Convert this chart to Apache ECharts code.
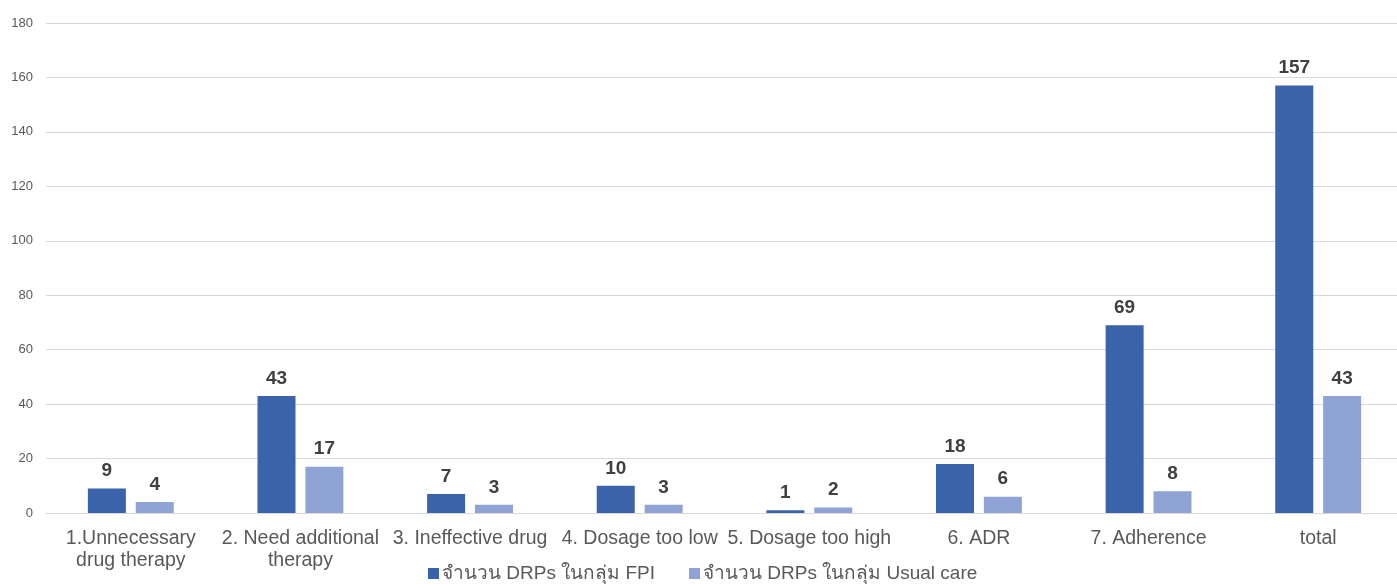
<!DOCTYPE html>
<html>
<head>
<meta charset="utf-8">
<script src="https://cdn.jsdelivr.net/npm/echarts@6/dist/echarts.min.js"></script>
<style>
  html, body { margin: 0; padding: 0; background: #fff; }
  #chart { width: 1397px; height: 584px; }
</style>
</head>
<body>
<div id="chart"></div>
<script>
// DRP categories and counts per group
const categories = [
  '1.Unnecessary\ndrug therapy',
  '2. Need additional\ntherapy',
  '3. Ineffective drug',
  '4. Dosage too low',
  '5. Dosage too high',
  '6. ADR',
  '7. Adherence',
  'total'
];
const fpiCounts = [9, 43, 7, 10, 1, 18, 69, 157];
const usualCareCounts = [4, 17, 3, 3, 2, 6, 8, 43];
const seriesNames = ['จำนวน DRPs ในกลุ่ม FPI', 'จำนวน DRPs ในกลุ่ม Usual care'];
const yTicks = { min: 0, max: 180, interval: 20 };

const FONT = 'Liberation Sans, Arial, "Noto Sans", sans-serif';

const chart = echarts.init(document.getElementById('chart'), null, { renderer: 'canvas' });

const labelStyle = {
  show: true,
  position: 'top',
  distance: 8,
  color: '#404040',
  fontSize: 19,
  fontWeight: 'bold',
  fontFamily: FONT
};

chart.setOption({
  animation: false,
  textStyle: { fontFamily: FONT },
  // plot area runs slightly past the right edge of the canvas
  grid: {
    left: 46, width: 1357, top: 23, bottom: 71,
    containLabel: false,
    outerBoundsMode: 'none'
  },
  legend: {
    top: 559,
    left: 423,
    itemWidth: 11,
    itemHeight: 11,
    itemGap: 34,
    icon: 'rect',
    textStyle: { color: '#595959', fontSize: 19, fontFamily: FONT, padding: [0, 0, 0, -2] },
    data: seriesNames
  },
  xAxis: {
    type: 'category',
    data: categories,
    axisLine: { show: true, lineStyle: { color: '#D9D9D9', width: 1 } },
    axisTick: { show: false },
    axisLabel: {
      color: '#595959',
      fontSize: 19.5,
      fontFamily: FONT,
      lineHeight: 22,
      margin: 15,
      interval: 0
    }
  },
  yAxis: {
    type: 'value',
    min: yTicks.min,
    max: yTicks.max,
    interval: yTicks.interval,
    axisLine: { show: false },
    axisTick: { show: false },
    splitLine: { lineStyle: { color: '#D9D9D9', width: 1 } },
    axisLabel: { color: '#595959', fontSize: 13, fontFamily: FONT, margin: 13 }
  },
  series: [
    {
      name: seriesNames[0],
      type: 'bar',
      data: fpiCounts,
      barWidth: 38,
      barGap: '26%',
      itemStyle: { color: '#3A63AB' },
      label: labelStyle
    },
    {
      name: seriesNames[1],
      type: 'bar',
      data: usualCareCounts,
      barWidth: 38,
      itemStyle: { color: '#8FA4D4' },
      label: labelStyle
    }
  ]
});
</script>
</body>
</html>
